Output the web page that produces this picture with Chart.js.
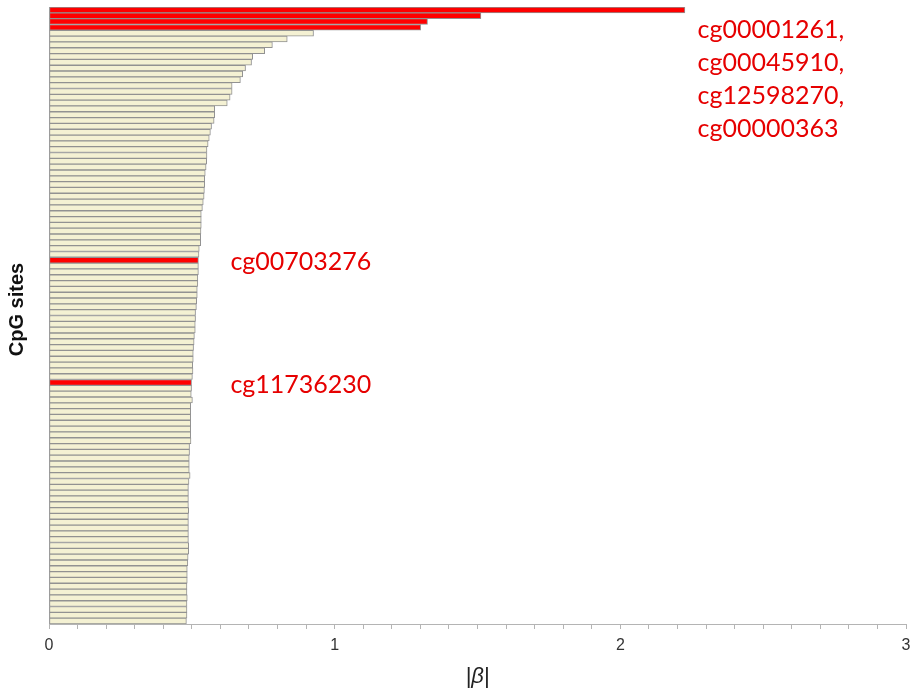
<!DOCTYPE html>
<html>
<head>
<meta charset="utf-8">
<script src="https://cdn.jsdelivr.net/npm/chart.js@4/dist/chart.umd.min.js"></script>
<style>
  html, body { margin: 0; padding: 0; background: #ffffff; }
  #wrap { width: 912px; height: 692px; }
</style>
</head>
<body>
<div id="wrap"><canvas id="chart" width="912" height="692"></canvas></div>
<script>
// |beta| per CpG site, ranked from largest to smallest
const betaAbs = [
  2.226, 1.512, 1.325, 1.301, 0.926, 0.834, 0.782, 0.755, 0.713, 0.709,
  0.688, 0.678, 0.670, 0.641, 0.641, 0.634, 0.624, 0.580, 0.580, 0.578,
  0.569, 0.565, 0.561, 0.557, 0.553, 0.553, 0.552, 0.550, 0.547, 0.545,
  0.545, 0.544, 0.543, 0.540, 0.537, 0.533, 0.533, 0.533, 0.532, 0.531,
  0.531, 0.526, 0.525, 0.523, 0.523, 0.523, 0.521, 0.521, 0.519, 0.519,
  0.517, 0.516, 0.513, 0.513, 0.512, 0.512, 0.509, 0.508, 0.506, 0.505,
  0.505, 0.503, 0.504, 0.502, 0.499, 0.499, 0.498, 0.502, 0.496, 0.496,
  0.496, 0.496, 0.496, 0.496, 0.497, 0.492, 0.492, 0.491, 0.491, 0.491,
  0.494, 0.490, 0.488, 0.488, 0.488, 0.488, 0.489, 0.488, 0.488, 0.488,
  0.488, 0.488, 0.489, 0.489, 0.487, 0.486, 0.484, 0.484, 0.484, 0.483,
  0.483, 0.484, 0.483, 0.483, 0.483, 0.481
];

// Rank of each site (category axis)
const siteRanks = betaAbs.map((_, i) => String(i + 1));

// Highlighted sites and their ranks
const topSites = ['cg00001261', 'cg00045910', 'cg12598270', 'cg00000363'];
const topSiteRanks = [1, 2, 3, 4];
const singleSites = ['cg00703276', 'cg11736230'];
const singleSiteRanks = [44, 65];

// X axis tick labels (whole numbers only)
const xTickLabels = ['0', '1', '2', '3'];

const highlightRanks = topSiteRanks.concat(singleSiteRanks);
const barColors = siteRanks.map(r => highlightRanks.includes(Number(r)) ? '#ff0000' : '#f4f1d3');

const RED_TEXT = '#e60000';

const siteLabelPlugin = {
  id: 'siteLabels',
  afterDatasetsDraw(chart) {
    const { ctx, scales: { x, y } } = chart;
    ctx.save();
    ctx.fillStyle = RED_TEXT;
    ctx.font = '25px Lato';
    ctx.textAlign = 'left';
    ctx.textBaseline = 'middle';
    // stacked list for the four leading sites
    const gx = x.getPixelForValue(2.27);
    const gy = y.getPixelForValue(topSiteRanks[0] - 1) + 20;
    topSites.forEach((name, i) => {
      const text = name + (i < topSites.length - 1 ? ',' : '');
      ctx.fillText(text, gx, gy + i * 33);
    });
    // single labels next to their bars
    singleSites.forEach((name, i) => {
      const px = x.getPixelForValue(0.635);
      const py = y.getPixelForValue(singleSiteRanks[i] - 1) + 2;
      ctx.fillText(name, px, py);
    });
    ctx.restore();

    // rotated y-axis title, centred slightly above the plot middle
    const area = chart.chartArea;
    ctx.save();
    ctx.fillStyle = '#111111';
    ctx.font = 'bold 20px "Liberation Sans"';
    ctx.textAlign = 'center';
    ctx.textBaseline = 'middle';
    ctx.translate(17, (area.top + area.bottom) / 2 - 6);
    ctx.rotate(-Math.PI / 2);
    ctx.fillText('CpG sites', 0, 0);
    ctx.restore();
  }
};

new Chart(document.getElementById('chart'), {
  type: 'bar',
  data: {
    labels: siteRanks,
    datasets: [{
      data: betaAbs,
      backgroundColor: barColors,
      borderColor: '#929292',
      borderWidth: 1,
      borderSkipped: false,
      barPercentage: 1,
      categoryPercentage: 1
    }]
  },
  options: {
    indexAxis: 'y',
    responsive: false,
    animation: false,
    layout: { padding: { top: 7, right: 0, left: 0, bottom: 0 } },
    plugins: { legend: { display: false }, tooltip: { enabled: false } },
    scales: {
      x: {
        type: 'linear',
        position: 'bottom',
        min: 0,
        max: 3,
        afterFit(s) {
          s.height = 68;
          s.paddingLeft = 0;
          s.paddingRight = 6;
        },
        ticks: {
          stepSize: 0.1,
          maxTicksLimit: 40,
          autoSkip: false,
          maxRotation: 0,
          padding: 7,
          color: '#333333',
          font: { family: 'Liberation Sans', size: 16 },
          callback(v) {
            const r = Math.round(v);
            return Math.abs(v - r) < 1e-6 ? xTickLabels[r] : '';
          }
        },
        grid: { drawOnChartArea: false, drawTicks: true, tickLength: 5, color: '#b4b4b4' },
        border: { display: true, color: '#b4b4b4' },
        title: {
          display: true,
          text: '|β|',
          color: '#222222',
          padding: { top: 0, bottom: 2 },
          font: { family: 'Liberation Sans', size: 22, style: 'italic' }
        }
      },
      y: {
        type: 'category',
        afterFit(s) { s.width = 49; },
        ticks: { display: false },
        grid: { display: false, drawTicks: false },
        border: { display: true, color: '#b4b4b4' },
        title: { display: false }
      }
    }
  },
  plugins: [siteLabelPlugin]
});
</script>
</body>
</html>
